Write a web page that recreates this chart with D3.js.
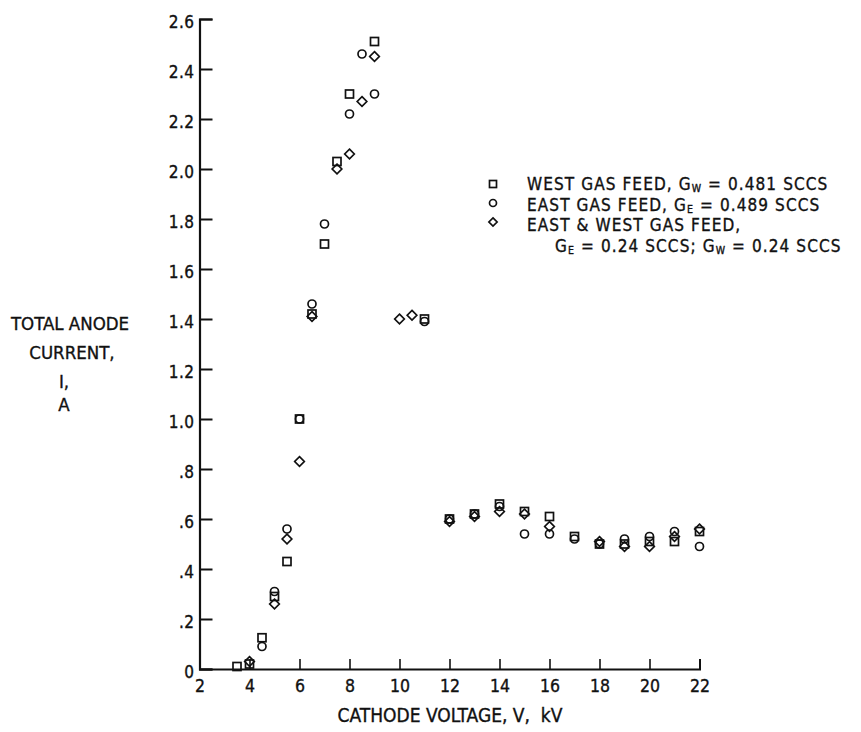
<!DOCTYPE html>
<html>
<head>
<meta charset="utf-8">
<script src="https://cdn.jsdelivr.net/npm/d3@7"></script>
<style>
  html, body { margin: 0; padding: 0; background: #fff; }
  svg { display: block; }
  text { font-family: "DejaVu Sans Condensed", "Liberation Sans Narrow", "Liberation Sans", sans-serif; fill: #111; stroke: #111; stroke-width: 0.35px; }
</style>
</head>
<body>
<svg id="chart" width="861" height="732"></svg>
<script>
// ---- data ----
const westV = [3.5, 4, 4.5, 5, 5.5, 6, 6.5, 7, 7.5, 8, 9, 11, 12, 13, 14, 15, 16, 17, 18, 19, 20, 21, 22];
const westI = [0.01, 0.02, 0.125, 0.29, 0.43, 1.00, 1.42, 1.70, 2.03, 2.30, 2.51, 1.40, 0.60, 0.62, 0.66, 0.63, 0.61, 0.53, 0.50, 0.50, 0.51, 0.51, 0.55];

const eastV = [4.5, 5, 5.5, 6, 6.5, 7, 8, 8.5, 9, 11, 12, 13, 14, 15, 16, 17, 18, 19, 20, 21, 22];
const eastI = [0.09, 0.31, 0.56, 1.00, 1.46, 1.78, 2.22, 2.46, 2.30, 1.39, 0.60, 0.62, 0.65, 0.54, 0.54, 0.52, 0.50, 0.52, 0.53, 0.55, 0.49];

const bothV = [4, 5, 5.5, 6, 6.5, 7.5, 8, 8.5, 9, 10, 10.5, 12, 13, 14, 15, 16, 18, 19, 20, 21, 22];
const bothI = [0.03, 0.26, 0.52, 0.83, 1.41, 2.00, 2.06, 2.27, 2.45, 1.40, 1.415, 0.59, 0.61, 0.63, 0.62, 0.57, 0.51, 0.49, 0.49, 0.53, 0.56];

const xTicks = [2, 4, 6, 8, 10, 12, 14, 16, 18, 20, 22];
const yTicks = [0, 0.2, 0.4, 0.6, 0.8, 1.0, 1.2, 1.4, 1.6, 1.8, 2.0, 2.2, 2.4, 2.6];
const yTickLabels = ["0", ".2", ".4", ".6", ".8", "1.0", "1.2", "1.4", "1.6", "1.8", "2.0", "2.2", "2.4", "2.6"];

const xTitle = "CATHODE VOLTAGE, V,  kV";
const yTitle = ["TOTAL ANODE", "CURRENT,", "I,", "A"];

// ---- layout ----
const svg = d3.select("#chart");
const x = d3.scaleLinear().domain([2, 22]).range([199.5, 699.5]);
const y = d3.scaleLinear().domain([0, 2.6]).range([669, 19]);

// axes
const yAxis = d3.axisLeft(y).tickValues(yTicks).tickSize(-13).tickPadding(5)
  .tickFormat((d, i) => yTickLabels[i]);
const gy = svg.append("g").attr("transform", `translate(${x(2)},0)`).call(yAxis);
gy.select(".domain").attr("stroke", "#111").attr("stroke-width", 2.2);
gy.selectAll(".tick line").attr("stroke", "#111").attr("stroke-width", 2);
gy.selectAll(".tick text").attr("font-size", 17).attr("fill", "#111").attr("font-family", null)
  .attr("dy", "0.5em").attr("letter-spacing", 0.5);

const xAxis = d3.axisBottom(x).tickValues(xTicks).tickSize(-10).tickPadding(11).tickFormat(d3.format("d"));
const gx = svg.append("g").attr("transform", `translate(0,${y(0)})`).call(xAxis);
gx.select(".domain").attr("stroke", "#111").attr("stroke-width", 2);
gx.selectAll(".tick line").attr("stroke", "#111").attr("stroke-width", 1.6);
gx.selectAll(".tick text").attr("font-size", 17.5).attr("fill", "#111").attr("font-family", null);
gx.selectAll(".tick").filter(d => d === 2).select("line").remove();

// axis titles
svg.append("text").attr("x", 450).attr("y", 722).attr("text-anchor", "middle")
  .attr("font-size", 19).attr("xml:space", "preserve").style("white-space", "pre").text(xTitle);
const yt = [[70, 330], [72, 359], [64, 388], [64, 411]];
yTitle.forEach((t, i) => {
  svg.append("text").attr("x", yt[i][0]).attr("y", yt[i][1]).attr("text-anchor", "middle")
    .attr("font-size", 18.5).text(t);
});

// markers
const S = 4;
function drawSquare(g, cx, cy, s = S) {
  g.append("rect").attr("x", cx - s).attr("y", cy - s).attr("width", 2 * s).attr("height", 2 * s)
    .attr("fill", "none").attr("stroke", "#111").attr("stroke-width", 1.7);
}
function drawCircle(g, cx, cy, s = S) {
  g.append("circle").attr("cx", cx).attr("cy", cy).attr("r", s)
    .attr("fill", "none").attr("stroke", "#111").attr("stroke-width", 1.7);
}
function drawDiamond(g, cx, cy, s = S) {
  const r = s + 0.8;
  g.append("path").attr("d", `M${cx},${cy - r}L${cx + r},${cy}L${cx},${cy + r}L${cx - r},${cy}Z`)
    .attr("fill", "none").attr("stroke", "#111").attr("stroke-width", 1.7);
}

const pts = svg.append("g");
westV.forEach((v, i) => drawSquare(pts, x(v), y(westI[i])));
eastV.forEach((v, i) => drawCircle(pts, x(v), y(eastI[i])));
bothV.forEach((v, i) => drawDiamond(pts, x(v), y(bothI[i])));

// legend
const leg = svg.append("g");
drawSquare(leg, 493, 184, 3.5);
drawCircle(leg, 493, 203, 3.5);
drawDiamond(leg, 493, 222, 3.3);
function legText(tx, ty, parts) {
  const t = leg.append("text").attr("x", tx).attr("y", ty).attr("font-size", 17).attr("letter-spacing", 1.1);
  parts.forEach(p => {
    const s = t.append("tspan").text(p[0]);
    if (p[1]) s.attr("dy", p[1]);
    if (p[2]) s.attr("font-size", p[2]);
  });
  return t;
}
legText(527, 190, [["WEST GAS FEED, G"], ["W", 2, 10.5], [" = 0.481 SCCS", -2]]);
legText(527, 210.5, [["EAST GAS FEED, G"], ["E", 2, 10.5], [" = 0.489 SCCS", -2]]);
legText(527, 231, [["EAST & WEST GAS FEED,"]]);
legText(555, 251.5, [["G"], ["E", 2, 10.5], [" = 0.24 SCCS; G", -2], ["W", 2, 10.5], [" = 0.24 SCCS", -2]]);
</script>
</body>
</html>
